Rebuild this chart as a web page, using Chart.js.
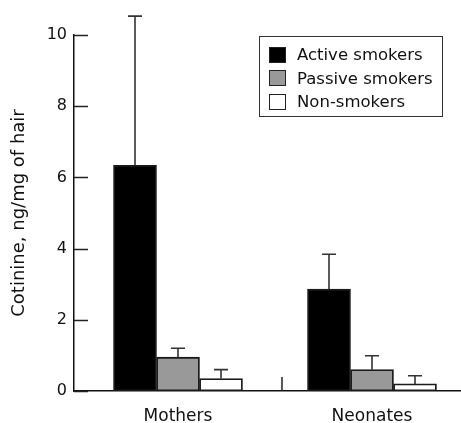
<!DOCTYPE html>
<html><head><meta charset="utf-8">
<script src="https://cdn.jsdelivr.net/npm/chart.js@4/dist/chart.umd.min.js"></script>
<style>
html,body{margin:0;padding:0;background:#fff;}
#wrap{position:relative;width:461px;height:423px;overflow:hidden;}
#legend{position:absolute;left:259px;top:36px;width:184px;height:81px;border:1px solid #333;box-sizing:border-box;padding-top:6px;font-family:"DejaVu Sans";font-size:16.5px;color:#111;}
.row{display:flex;align-items:center;height:23.5px;padding-left:9px;white-space:nowrap;}
.sw{width:17px;height:16px;box-sizing:border-box;border:1px solid #222;margin-right:11px;flex:none;}
</style></head>
<body><div id="wrap"><canvas id="c" width="461" height="423"></canvas><div id="legend"></div></div>
<script>
// ---- data ----
const categories = ['Mothers', 'Neonates'];
const seriesNames = ['Active smokers', 'Passive smokers', 'Non-smokers'];
const activeMeans = [6.34, 2.86];
const activeUpper = [10.53, 3.84];
const passiveMeans = [0.95, 0.60];
const passiveUpper = [1.20, 0.99];
const nonMeans = [0.35, 0.20];
const nonUpper = [0.60, 0.43];
const yTickValues = [0, 2, 4, 6, 8, 10];
const yTitle = 'Cotinine, ng/mg of hair';

// ---- styles ----
const fills = ['#000000', '#999999', '#ffffff'];
const ink = '#111';
const FONT = '"DejaVu Sans", sans-serif';

const meansList = [activeMeans, passiveMeans, nonMeans];
const upperList = [activeUpper, passiveUpper, nonUpper];

const datasets = seriesNames.map((name, s) => ({
  label: name,
  data: categories.map((c, i) => ({ x: i + 1, y: meansList[s][i] })),
  upper: upperList[s],
  backgroundColor: fills[s],
  borderColor: '#1a1a1a',
  borderWidth: 1.8,
  borderSkipped: false,
  barThickness: 43
}));

const decorPlugin = {
  id: 'decor',
  afterDatasetsDraw(chart) {
    const ctx = chart.ctx;
    const ys = chart.scales.y, xs = chart.scales.x;
    ctx.save();
    // error bars
    ctx.strokeStyle = '#333';
    ctx.lineWidth = 1.6;
    chart.data.datasets.forEach((ds, d) => {
      const meta = chart.getDatasetMeta(d);
      meta.data.forEach((el, i) => {
        const yTop = ys.getPixelForValue(ds.upper[i]);
        ctx.beginPath();
        ctx.moveTo(el.x, el.y);
        ctx.lineTo(el.x, yTop);
        ctx.moveTo(el.x - 7, yTop);
        ctx.lineTo(el.x + 7, yTop);
        ctx.stroke();
      });
    });
    // inward y ticks
    ctx.strokeStyle = '#222';
    ctx.lineWidth = 1.5;
    ys.ticks.forEach(t => {
      const py = Math.round(ys.getPixelForValue(t.value)) + 0.5;
      ctx.beginPath();
      ctx.moveTo(chart.chartArea.left, py);
      ctx.lineTo(chart.chartArea.left + 14, py);
      ctx.stroke();
    });
    // separator tick between groups on x axis
    const sx = xs.getPixelForValue(1.536);
    ctx.beginPath();
    ctx.moveTo(sx, chart.chartArea.bottom);
    ctx.lineTo(sx, chart.chartArea.bottom - 14);
    ctx.stroke();
    ctx.restore();
  }
};

new Chart(document.getElementById('c'), {
  type: 'bar',
  data: { datasets },
  options: {
    responsive: false,
    animation: false,
    layout: { padding: { top: 35, left: 0, right: 0, bottom: 0 } },
    plugins: { legend: { display: false }, tooltip: { enabled: false } },
    scales: {
      x: {
        type: 'linear',
        offset: false,
        min: 0.4639,
        max: 2.4588,
        grid: { display: false, drawTicks: false, offset: false },
        border: { display: true, color: ink, width: 1.5 },
        afterBuildTicks(scale) { scale.ticks = categories.map((c, i) => ({ value: i + 1 })); },
        afterFit(scale) { scale.height = 32; },
        ticks: {
          autoSkip: false,
          maxRotation: 0,
          padding: 15,
          color: ink,
          font: { family: FONT, size: 17 },
          callback: (v) => categories[Math.round(v) - 1] || ''
        }
      },
      y: {
        min: 0,
        max: 10,
        grid: { display: false, drawTicks: false },
        border: { display: true, color: ink, width: 1.5 },
        afterBuildTicks(scale) { scale.ticks = yTickValues.map(v => ({ value: v })); },
        afterFit(scale) { scale.width = 74; },
        ticks: {
          padding: 7,
          color: ink,
          font: { family: FONT, size: 16 },
          callback: (v) => String(v)
        },
        title: {
          display: true,
          text: yTitle,
          color: ink,
          font: { family: FONT, size: 18 },
          padding: { top: 9, bottom: 0 }
        }
      }
    }
  },
  plugins: [decorPlugin]
});

// HTML legend built from the series
const leg = document.getElementById('legend');
seriesNames.forEach((name, s) => {
  const row = document.createElement('div');
  row.className = 'row';
  const sw = document.createElement('span');
  sw.className = 'sw';
  sw.style.background = fills[s];
  const tx = document.createElement('span');
  tx.textContent = name;
  row.appendChild(sw);
  row.appendChild(tx);
  leg.appendChild(row);
});
</script>
</body></html>
